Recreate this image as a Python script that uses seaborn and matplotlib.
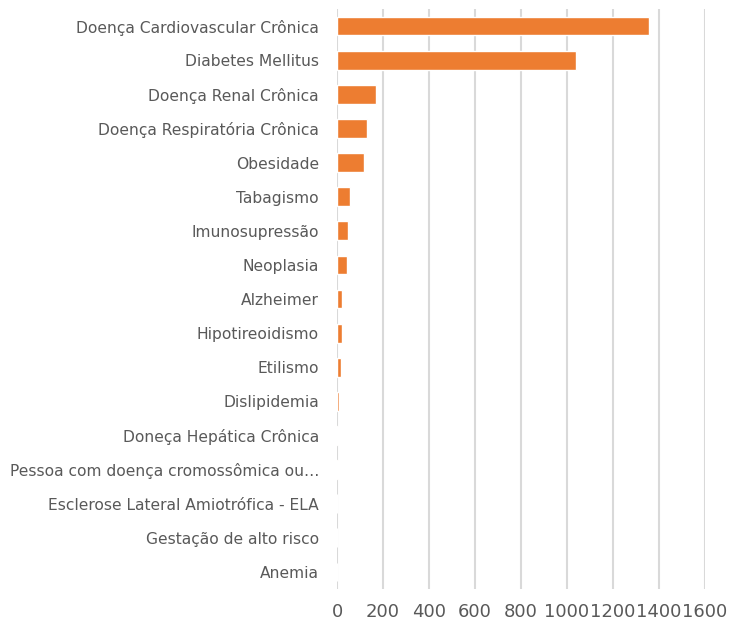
import matplotlib
matplotlib.use("Agg")
import matplotlib.pyplot as plt
import seaborn as sns
import pandas as pd

categories = [
    "Doença Cardiovascular Crônica",
    "Diabetes Mellitus",
    "Doença Renal Crônica",
    "Doença Respiratória Crônica",
    "Obesidade",
    "Tabagismo",
    "Imunosupressão",
    "Neoplasia",
    "Alzheimer",
    "Hipotireoidismo",
    "Etilismo",
    "Dislipidemia",
    "Doneça Hepática Crônica",
    "Pessoa com doença cromossômica ou…",
    "Esclerose Lateral Amiotrófica - ELA",
    "Gestação de alto risco",
    "Anemia",
]
values = [1355, 1041, 168, 129, 116, 55, 46, 42, 23, 22, 17, 8, 3, 3, 0, 0, 0]
x_ticks = [0, 200, 400, 600, 800, 1000, 1200, 1400, 1600]

df = pd.DataFrame({"cat": categories, "n": values})

sns.set_style("white")
plt.rcParams["font.family"] = ["DejaVu Sans"]

fig = plt.figure(figsize=(7.29, 6.23), dpi=100)
ax = fig.add_axes([0.4623, 0.0546, 0.5047, 0.9309])

sns.barplot(data=df, x="n", y="cat", color="#ED7D31", saturation=1,
            width=0.55, ax=ax, zorder=3)

ax.set_xlim(0, 1600)
ax.set_xticks(x_ticks)
ax.set_xlabel("")
ax.set_ylabel("")
ax.grid(axis="x", color="#D9D9D9", linewidth=1.5, zorder=0)
for s in ax.spines.values():
    s.set_visible(False)
ax.tick_params(axis="x", length=0, pad=10, labelsize=13, labelcolor="#595959")
ax.tick_params(axis="y", length=0, pad=13, labelsize=11.2, labelcolor="#595959")

fig.savefig("out.png", dpi=100)
